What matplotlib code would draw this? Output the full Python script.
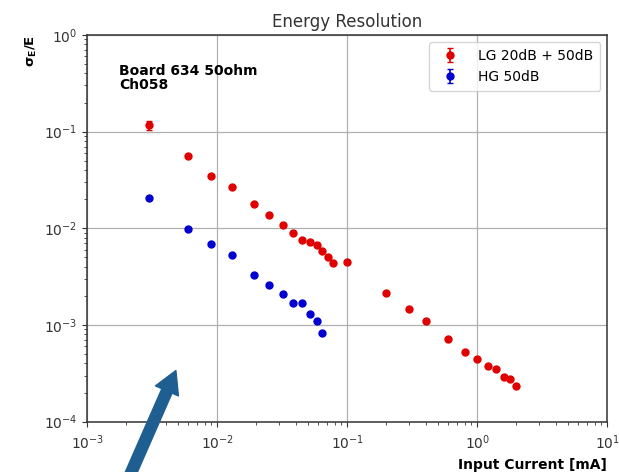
import matplotlib
matplotlib.use("Agg")
import matplotlib.pyplot as plt
from matplotlib.patches import FancyArrowPatch

# Input current [mA] and relative energy resolution for each gain setting
lg_current = [0.003, 0.006, 0.009, 0.013, 0.019, 0.025, 0.032, 0.038, 0.045,
              0.052, 0.058, 0.064, 0.071, 0.077, 0.1, 0.2, 0.3, 0.4, 0.6,
              0.8, 1.0, 1.2, 1.4, 1.6, 1.8, 2.0]
lg_resolution = [0.117, 0.0565, 0.035, 0.0268, 0.018, 0.0138, 0.0108, 0.0090,
                 0.0076, 0.0072, 0.0067, 0.0058, 0.0051, 0.0044, 0.0045,
                 0.00216, 0.00146, 0.00111, 0.00071, 0.00052, 0.00044,
                 0.00038, 0.00035, 0.00029, 0.000275, 0.000236]
lg_error = [0.013] + [0.0] * (len(lg_current) - 1)

hg_current = [0.003, 0.006, 0.009, 0.013, 0.019, 0.025, 0.032, 0.038, 0.045,
              0.052, 0.058, 0.064]
hg_resolution = [0.0205, 0.0099, 0.0069, 0.0053, 0.0033, 0.0026, 0.0021,
                 0.0017, 0.0017, 0.0013, 0.0011, 0.00082]
hg_error = [0.0] * len(hg_current)

series_labels = ["LG 20dB + 50dB", "HG 50dB"]

fig = plt.figure(figsize=(6.19, 4.72), dpi=100)
ax = fig.add_axes([0.141, 0.1066, 0.840, 0.8194])

ax.errorbar(lg_current, lg_resolution, yerr=lg_error, fmt="o", color="#e00000",
            ms=5, capsize=2, elinewidth=1.2, label=series_labels[0], zorder=3)
ax.errorbar(hg_current, hg_resolution, yerr=hg_error, fmt="o", color="#0000d0",
            ms=5, capsize=2, elinewidth=1.2, label=series_labels[1], zorder=3)

ax.set_xscale("log")
ax.set_yscale("log")
ax.set_xlim(1e-3, 1e1)
ax.set_ylim(1e-4, 1e0)
ax.grid(True, which="major", color="#b0b0b0", linewidth=0.9)

for side in ax.spines.values():
    side.set_linewidth(1.1)
    side.set_color("#333333")
ax.tick_params(which="both", colors="#333333", labelsize=10)
ax.tick_params(axis="x", which="major", pad=5)

ax.set_title("Energy Resolution", fontsize=12, color="#333333")
ax.set_xlabel("Input Current [mA]", fontweight="bold", fontsize=10, loc="right")
ax.set_ylabel(r"$\mathbf{\sigma_E}$/E", fontweight="bold", fontsize=9.5, loc="top")

ax.text(0.061, 0.925, "Board 634 50ohm\nCh058", transform=ax.transAxes,
        fontsize=10, fontweight="bold", va="top", ha="left", linespacing=1.0)

ax.legend(loc="upper right", fontsize=10, handletextpad=1.0, borderpad=0.5)

arrow = FancyArrowPatch((127 / 619, -10 / 472), (177 / 619, 104 / 472),
                        transform=fig.transFigure, color="#1f5e91",
                        arrowstyle="simple,head_width=18,head_length=16,tail_width=8",
                        mutation_scale=1, clip_on=False)
fig.patches.append(arrow)

fig.savefig("out.png", dpi=100)
